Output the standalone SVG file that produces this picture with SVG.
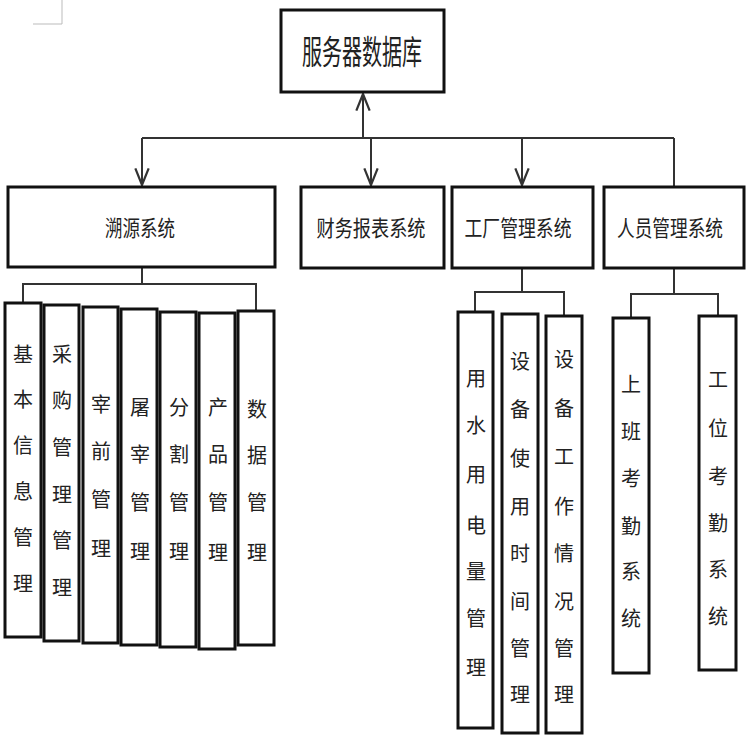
<svg xmlns="http://www.w3.org/2000/svg" width="750" height="750" viewBox="0 0 750 750">
<style>
.box{fill:#fff;stroke:#111;stroke-width:3}
.ln{fill:none;stroke:#333;stroke-width:2}
.t{font-family:"Noto Sans CJK SC","Noto Sans",sans-serif;fill:#222;text-anchor:middle;dominant-baseline:central}
.h{font-size:22px}
.v{font-size:20px}
.top{font-size:33px;font-family:"Noto Sans CJK SC",serif}
</style>
<defs>
<marker id="arr" markerUnits="userSpaceOnUse" markerWidth="20" markerHeight="20" viewBox="-16 -8 18 16" refX="0" refY="0" orient="auto">
<path d="M-15,-6 L0,0 L-15,6" fill="none" stroke="#333" stroke-width="2"/>
</marker>
</defs>
<rect width="750" height="750" fill="#fff"/>
<path d="M62,0 V24 H33" fill="none" stroke="#bbb" stroke-width="1"/>
<g id="connectors">
<path class="ln" d="M142,138 H674"/>
<path class="ln" d="M363,138 V94" marker-end="url(#arr)"/>
<path class="ln" d="M142,138 V185" marker-end="url(#arr)"/>
<path class="ln" d="M371,138 V185" marker-end="url(#arr)"/>
<path class="ln" d="M522,138 V185" marker-end="url(#arr)"/>
<path class="ln" d="M674,138 V187"/>
<path class="ln" d="M142,268 V284 M23,303 V284 H256 V311"/>
<path class="ln" d="M522,268 V292 M475,312 V292 H564 V316"/>
<path class="ln" d="M674,268 V294 M631,318 V294 H718 V316"/>
</g>
<g id="server">
<rect class="box" x="281" y="10" width="163" height="82"/>
<text class="t top" x="362" y="50" textLength="120" lengthAdjust="spacingAndGlyphs">服务器数据库</text>
</g>
<g id="suyuan">
<rect class="box" x="8" y="187" width="267" height="80"/>
<text class="t h" x="140" y="226" textLength="70" lengthAdjust="spacingAndGlyphs">溯源系统</text>
</g>
<g id="caiwu">
<rect class="box" x="301" y="187" width="143" height="81"/>
<text class="t h" x="371" y="226" textLength="109" lengthAdjust="spacingAndGlyphs">财务报表系统</text>
</g>
<g id="gongchang">
<rect class="box" x="452" y="187" width="141" height="81"/>
<text class="t h" x="518" y="226" textLength="107" lengthAdjust="spacingAndGlyphs">工厂管理系统</text>
</g>
<g id="renyuan">
<rect class="box" x="604" y="187" width="140" height="81"/>
<text class="t h" x="670" y="226" textLength="106" lengthAdjust="spacingAndGlyphs">人员管理系统</text>
</g>
<g id="jiben">
<rect class="box" x="5" y="303" width="36" height="334"/>
<text class="t v"><tspan x="23" y="353">基</tspan><tspan x="23" y="398">本</tspan><tspan x="23" y="444">信</tspan><tspan x="23" y="490">息</tspan><tspan x="23" y="536">管</tspan><tspan x="23" y="582">理</tspan></text>
</g>
<g id="caigou">
<rect class="box" x="44" y="305" width="35" height="336"/>
<text class="t v"><tspan x="62" y="353">采</tspan><tspan x="62" y="399">购</tspan><tspan x="62" y="446">管</tspan><tspan x="62" y="493">理</tspan><tspan x="62" y="539">管</tspan><tspan x="62" y="586">理</tspan></text>
</g>
<g id="zaiqian">
<rect class="box" x="83" y="307" width="35" height="336"/>
<text class="t v"><tspan x="101" y="403">宰</tspan><tspan x="101" y="450">前</tspan><tspan x="101" y="498">管</tspan><tspan x="101" y="547">理</tspan></text>
</g>
<g id="tuzai">
<rect class="box" x="121" y="309" width="36" height="336"/>
<text class="t v"><tspan x="140" y="406">屠</tspan><tspan x="140" y="453">宰</tspan><tspan x="140" y="501">管</tspan><tspan x="140" y="550">理</tspan></text>
</g>
<g id="fenge">
<rect class="box" x="160" y="312" width="36" height="335"/>
<text class="t v"><tspan x="179" y="406">分</tspan><tspan x="179" y="453">割</tspan><tspan x="179" y="501">管</tspan><tspan x="179" y="550">理</tspan></text>
</g>
<g id="chanpin">
<rect class="box" x="199" y="313" width="36" height="336"/>
<text class="t v"><tspan x="218" y="406">产</tspan><tspan x="218" y="453">品</tspan><tspan x="218" y="501">管</tspan><tspan x="218" y="551">理</tspan></text>
</g>
<g id="shuju">
<rect class="box" x="238" y="311" width="36" height="334"/>
<text class="t v"><tspan x="257" y="408">数</tspan><tspan x="257" y="454">据</tspan><tspan x="257" y="501">管</tspan><tspan x="257" y="551">理</tspan></text>
</g>
<g id="shuidian">
<rect class="box" x="458" y="312" width="35" height="416"/>
<text class="t v"><tspan x="476" y="377">用</tspan><tspan x="476" y="424">水</tspan><tspan x="476" y="473">用</tspan><tspan x="476" y="524">电</tspan><tspan x="476" y="570">量</tspan><tspan x="476" y="617">管</tspan><tspan x="476" y="666">理</tspan></text>
</g>
<g id="shiyong">
<rect class="box" x="502" y="314" width="36" height="419"/>
<text class="t v"><tspan x="520" y="360">设</tspan><tspan x="520" y="408">备</tspan><tspan x="520" y="457">使</tspan><tspan x="520" y="505">用</tspan><tspan x="520" y="552">时</tspan><tspan x="520" y="600">间</tspan><tspan x="520" y="647">管</tspan><tspan x="520" y="693">理</tspan></text>
</g>
<g id="gongzuo">
<rect class="box" x="546" y="316" width="36" height="417"/>
<text class="t v"><tspan x="564" y="358">设</tspan><tspan x="564" y="407">备</tspan><tspan x="564" y="455">工</tspan><tspan x="564" y="505">作</tspan><tspan x="564" y="552">情</tspan><tspan x="564" y="600">况</tspan><tspan x="564" y="647">管</tspan><tspan x="564" y="693">理</tspan></text>
</g>
<g id="shangban">
<rect class="box" x="613" y="318" width="36" height="355"/>
<text class="t v"><tspan x="631" y="383">上</tspan><tspan x="631" y="430">班</tspan><tspan x="631" y="477">考</tspan><tspan x="631" y="525">勤</tspan><tspan x="631" y="570">系</tspan><tspan x="631" y="617">统</tspan></text>
</g>
<g id="gongwei">
<rect class="box" x="699" y="316" width="37" height="354"/>
<text class="t v"><tspan x="718" y="378">工</tspan><tspan x="718" y="427">位</tspan><tspan x="718" y="475">考</tspan><tspan x="718" y="522">勤</tspan><tspan x="718" y="568">系</tspan><tspan x="718" y="615">统</tspan></text>
</g>
</svg>
